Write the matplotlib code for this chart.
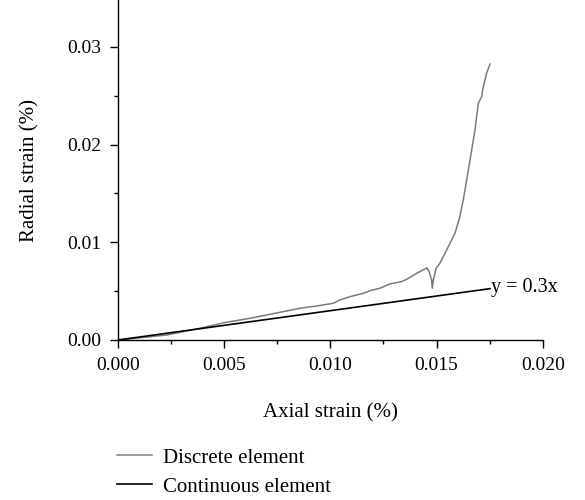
import matplotlib
matplotlib.use("Agg")
import matplotlib.pyplot as plt
from matplotlib.ticker import MultipleLocator, FormatStrFormatter

plt.rcParams['font.family'] = ['Liberation Serif', 'DejaVu Serif']

# Discrete element curve (axial strain %, radial strain %)
discrete_x = [0.0, 0.00229, 0.00386, 0.005, 0.00621, 0.00778, 0.00857, 0.00936, 0.01014,
              0.01045, 0.01093, 0.01155, 0.01187, 0.01234, 0.01281, 0.01336, 0.0136,
              0.01407, 0.01454, 0.01465, 0.01477, 0.0148, 0.01485, 0.01498, 0.01516,
              0.01548, 0.01587, 0.0161, 0.01626, 0.01658, 0.01681, 0.01697, 0.01713,
              0.01717, 0.01736, 0.01752]
discrete_y = [0.0, 0.00051, 0.0012, 0.00177, 0.00222, 0.0029, 0.00325, 0.00348, 0.00376,
              0.0041, 0.00444, 0.00478, 0.00505, 0.0053, 0.00574, 0.00598, 0.00622,
              0.00683, 0.00738, 0.007, 0.00615, 0.0053, 0.00615, 0.00734, 0.00786,
              0.00922, 0.01093, 0.01263, 0.01434, 0.01844, 0.0215, 0.02425, 0.02493,
              0.02561, 0.02732, 0.02824]

# Continuous element: y = 0.3x
slope = 0.3
continuous_x = [0.0, 0.01752]
continuous_y = [slope * v for v in continuous_x]

fig = plt.figure(figsize=(5.85, 5.0), dpi=100)
ax = fig.add_axes([118/585, 0.32, (542.7-118)/585, 0.68])

ax.plot(discrete_x, discrete_y, color='#7a7a7a', lw=1.1, label='Discrete element')
ax.plot(continuous_x, continuous_y, color='black', lw=1.2, label='Continuous element')
ax.text(continuous_x[-1] + 0.00003, continuous_y[-1] + 0.00012, 'y = 0.3x',
        fontsize=14.5, ha='left', va='center')

ax.set_xlim(0, 0.020)
ax.set_ylim(0, 0.0348)
ax.xaxis.set_major_locator(MultipleLocator(0.005))
ax.xaxis.set_minor_locator(MultipleLocator(0.0025))
ax.yaxis.set_major_locator(MultipleLocator(0.01))
ax.yaxis.set_minor_locator(MultipleLocator(0.005))
ax.xaxis.set_major_formatter(FormatStrFormatter('%.3f'))
ax.yaxis.set_major_formatter(FormatStrFormatter('%.2f'))
ax.spines['top'].set_visible(False)
ax.spines['right'].set_visible(False)
for s in ('left', 'bottom'):
    ax.spines[s].set_linewidth(1.0)
ax.tick_params(which='major', direction='out', length=6, width=1, labelsize=14, pad=6)
ax.tick_params(which='minor', direction='out', length=3, width=1)

ax.set_xlabel('Axial strain (%)', fontsize=15, labelpad=21)
ax.set_ylabel('Radial strain (%)', fontsize=15, labelpad=20)

fig.legend(loc='upper left', bbox_to_anchor=(117/585, 1 - 448/500), frameon=False,
           fontsize=15, handlelength=1.7, handletextpad=0.53, labelspacing=0.45,
           borderaxespad=0, borderpad=0)

fig.savefig('out.png', dpi=100)
